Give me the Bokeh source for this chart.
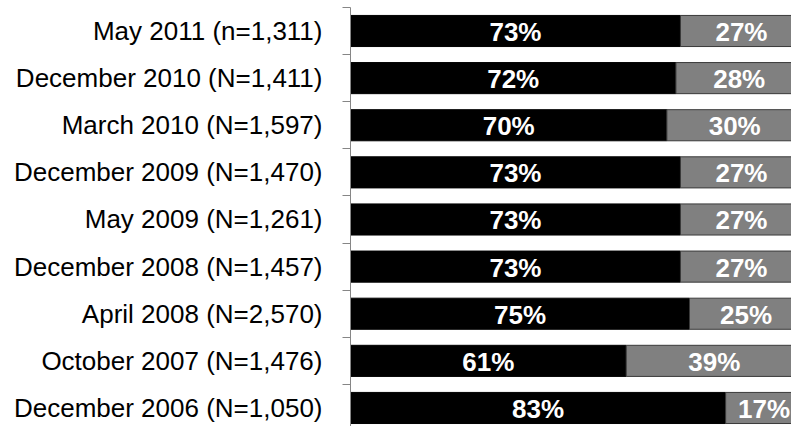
from bokeh.plotting import figure
from bokeh.models import ColumnDataSource, Range1d, FixedTicker
from bokeh.core.properties import value
from bokeh.embed import file_html
from bokeh.resources import INLINE
import numpy as np

# Survey waves, top to bottom
waves = [
    "May 2011 (n=1,311)",
    "December 2010 (N=1,411)",
    "March 2010 (N=1,597)",
    "December 2009 (N=1,470)",
    "May 2009 (N=1,261)",
    "December 2008 (N=1,457)",
    "April 2008 (N=2,570)",
    "October 2007 (N=1,476)",
    "December 2006 (N=1,050)",
]
yes_pct = [73, 72, 70, 73, 73, 73, 75, 61, 83]
no_pct = [27, 28, 30, 27, 27, 27, 25, 39, 17]

n = len(waves)
ypos = np.arange(n)[::-1].astype(float)  # first wave at the top
yes = np.array(yes_pct, dtype=float)
no = np.array(no_pct, dtype=float)

src = ColumnDataSource(dict(
    y=ypos,
    yes=yes,
    no=no,
    no_end=yes + no,
    yes_mid=yes / 2,
    no_mid=yes + no / 2,
    yes_lbl=[f"{v}%" for v in yes_pct],
    no_lbl=[f"{v}%" for v in no_pct],
))

p = figure(
    width=791, height=426,
    x_range=Range1d(0, 97.57),
    y_range=Range1d(-0.393, 8.647),
    output_backend="svg", toolbar_location=None,
    min_border_left=350, min_border_right=0,
    min_border_top=0, min_border_bottom=0,
)

bar_h = 0.66
p.hbar(y="y", left=0, right="yes", height=bar_h, source=src,
       fill_color="#000000", line_color="#000000", line_width=1)
p.hbar(y="y", left="yes", right="no_end", height=bar_h, source=src,
       fill_color="#808080", line_color="#3a3a3a", line_width=1)

lbl_style = dict(
    text_color="white", text_font=value("Liberation Sans"),
    text_font_style="bold", text_font_size="26px",
    text_align="center", text_baseline="middle",
)
p.text(x="yes_mid", y="y", text="yes_lbl", source=src, y_offset=1, **lbl_style)
p.text(x="no_mid", y="y", text="no_lbl", source=src, y_offset=1, **lbl_style)

# Category axis: labels at bar centres, short ticks between categories
p.yaxis.ticker = FixedTicker(ticks=list(ypos),
                             minor_ticks=list(np.arange(n + 1) - 0.5))
p.yaxis.bounds = (-1.0, n - 0.5)
p.yaxis.major_label_overrides = {float(y): w for y, w in zip(ypos, waves)}
p.yaxis.major_tick_line_color = None
p.yaxis.major_tick_out = 0
p.yaxis.major_tick_in = 0
p.yaxis.minor_tick_out = 8
p.yaxis.minor_tick_in = 0
p.yaxis.minor_tick_line_color = "#868686"
p.yaxis.axis_line_color = "#868686"
p.yaxis.major_label_standoff = 20
p.yaxis.major_label_text_font = "Liberation Sans"
p.yaxis.major_label_text_font_size = "26px"
p.yaxis.major_label_text_color = "#000000"

p.xaxis.visible = False
p.xgrid.visible = False
p.ygrid.visible = False
p.outline_line_color = None
p.background_fill_color = "white"
p.border_fill_color = "white"

open("out.html", "w").write(file_html(p, INLINE))
